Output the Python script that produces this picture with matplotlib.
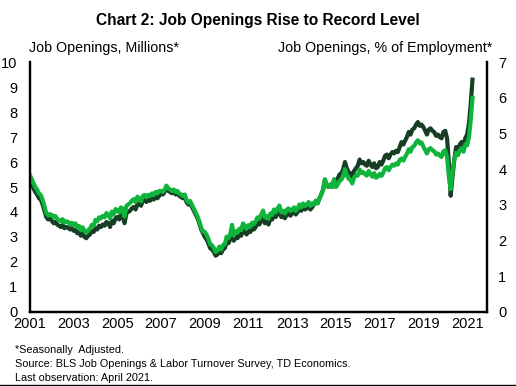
import numpy as np
import pandas as pd
import matplotlib
matplotlib.use('Agg')
import matplotlib.pyplot as plt
import matplotlib.dates as mdates

plt.rcParams['font.family'] = ['Liberation Sans', 'DejaVu Sans']

# Job openings, millions (left axis), monthly Jan 2001 - Apr 2021
openings = [
    5.25, 5.10, 4.95, 4.80, 4.70, 4.55, 4.50, 4.30, 4.05, 3.80, 3.70, 3.75,  # 2001
    3.65, 3.55, 3.60, 3.50, 3.45, 3.40, 3.48, 3.35, 3.40, 3.38, 3.30, 3.35,  # 2002
    3.25, 3.30, 3.15, 3.20, 3.05, 3.15, 3.00, 2.95, 3.05, 3.10, 3.25, 3.20,  # 2003
    3.35, 3.30, 3.45, 3.40, 3.50, 3.45, 3.60, 3.55, 3.40, 3.65, 3.55, 3.75,  # 2004
    3.80, 3.70, 3.90, 3.85, 3.55, 3.95, 4.00, 4.05, 4.15, 4.20, 4.10, 4.30,  # 2005
    4.35, 4.25, 4.45, 4.50, 4.40, 4.50, 4.45, 4.55, 4.50, 4.60, 4.55, 4.65,  # 2006
    4.75, 4.70, 4.80, 4.95, 4.85, 4.80, 4.75, 4.80, 4.70, 4.75, 4.65, 4.60,  # 2007
    4.55, 4.60, 4.40, 4.30, 4.35, 4.20, 4.05, 3.90, 3.75, 3.55, 3.30, 3.15,  # 2008
    3.00, 2.90, 2.75, 2.55, 2.50, 2.40, 2.25, 2.30, 2.45, 2.35, 2.50, 2.55,  # 2009
    2.80, 2.75, 2.90, 3.25, 2.85, 3.00, 2.95, 3.10, 3.05, 3.30, 3.20, 3.10,  # 2010
    3.25, 3.20, 3.35, 3.30, 3.40, 3.55, 3.50, 3.65, 3.80, 3.55, 3.60, 3.50,  # 2011
    3.75, 3.70, 3.90, 3.80, 3.95, 4.05, 3.80, 3.85, 3.75, 3.90, 3.95, 3.85,  # 2012
    3.95, 4.05, 3.90, 4.00, 4.15, 4.05, 4.20, 4.10, 4.15, 4.25, 4.10, 4.20,  # 2013
    4.30, 4.45, 4.35, 4.55, 4.70, 4.90, 5.30, 5.05, 5.00, 5.10, 5.00, 5.30,  # 2014
    5.25, 5.35, 5.50, 5.55, 5.70, 6.00, 5.75, 5.60, 5.55, 5.40, 5.65, 5.75,  # 2015
    5.85, 6.10, 5.95, 6.00, 5.90, 5.85, 6.05, 5.90, 5.80, 5.95, 5.75, 5.80,  # 2016
    6.00, 5.90, 6.05, 6.25, 6.30, 6.15, 6.30, 6.40, 6.35, 6.45, 6.40, 6.60,  # 2017
    6.80, 6.70, 6.85, 7.00, 7.20, 7.10, 7.30, 7.35, 7.50, 7.60, 7.45, 7.50,  # 2018
    7.40, 7.25, 7.10, 7.30, 7.35, 7.25, 7.20, 7.05, 7.10, 7.00, 6.95, 7.20,  # 2019
    7.25, 6.95, 6.00, 4.65, 5.40, 6.10, 6.60, 6.50, 6.70, 6.80, 6.65, 6.95,  # 2020
    7.10, 7.55, 8.30, 9.30,                                                  # 2021
]

# Job openings, % of employment (right axis)
rate = [
    3.83, 3.72, 3.61, 3.50, 3.43, 3.32, 3.28, 3.14, 2.96, 2.77, 2.70, 2.74,
    2.72, 2.65, 2.69, 2.61, 2.57, 2.54, 2.60, 2.50, 2.54, 2.52, 2.46, 2.50,
    2.44, 2.48, 2.37, 2.41, 2.29, 2.37, 2.26, 2.22, 2.29, 2.33, 2.44, 2.41,
    2.58, 2.54, 2.65, 2.62, 2.69, 2.65, 2.77, 2.73, 2.62, 2.81, 2.73, 2.88,
    2.86, 2.78, 2.93, 2.89, 2.67, 2.97, 3.01, 3.05, 3.12, 3.16, 3.08, 3.23,
    3.18, 3.10, 3.25, 3.28, 3.21, 3.28, 3.25, 3.32, 3.28, 3.36, 3.32, 3.39,
    3.39, 3.36, 3.43, 3.54, 3.46, 3.43, 3.39, 3.43, 3.36, 3.39, 3.32, 3.29,
    3.25, 3.29, 3.14, 3.07, 3.11, 3.00, 2.89, 2.79, 2.68, 2.54, 2.36, 2.25,
    2.24, 2.16, 2.05, 1.90, 1.87, 1.79, 1.68, 1.72, 1.83, 1.75, 1.87, 1.90,
    2.11, 2.07, 2.18, 2.44, 2.14, 2.26, 2.22, 2.33, 2.29, 2.48, 2.41, 2.33,
    2.43, 2.39, 2.50, 2.46, 2.54, 2.65, 2.61, 2.72, 2.84, 2.65, 2.69, 2.61,
    2.76, 2.72, 2.87, 2.79, 2.90, 2.98, 2.79, 2.83, 2.76, 2.87, 2.90, 2.83,
    2.86, 2.93, 2.83, 2.90, 3.01, 2.93, 3.04, 2.97, 3.01, 3.08, 2.97, 3.04,
    3.01, 3.11, 3.04, 3.18, 3.29, 3.43, 3.71, 3.53, 3.50, 3.57, 3.50, 3.71,
    3.50, 3.57, 3.67, 3.70, 3.80, 4.00, 3.83, 3.73, 3.70, 3.60, 3.77, 3.83,
    3.82, 3.99, 3.89, 3.92, 3.86, 3.82, 3.95, 3.86, 3.79, 3.89, 3.76, 3.79,
    3.87, 3.81, 3.90, 4.03, 4.06, 3.97, 4.06, 4.13, 4.10, 4.16, 4.13, 4.26,
    4.30, 4.24, 4.34, 4.43, 4.56, 4.49, 4.62, 4.65, 4.75, 4.81, 4.72, 4.75,
    4.63, 4.53, 4.44, 4.56, 4.59, 4.53, 4.50, 4.41, 4.44, 4.38, 4.34, 4.50,
    4.53, 4.34, 3.80, 3.44, 3.91, 4.27, 4.46, 4.39, 4.53, 4.59, 4.49, 4.70,
    4.67, 4.90, 5.35, 6.00,
]

dates = pd.date_range('2001-01-01', periods=len(openings), freq='MS')
year_ticks = list(range(2001, 2022, 2))

dark = '#173d25'
bright = '#0fb43a'

fig = plt.figure(figsize=(5.16, 3.86), dpi=100)
ax = fig.add_axes([0.058, 0.192, 0.886, 0.647])
ax2 = ax.twinx()

ax.plot(dates, openings, color=dark, lw=3.0, solid_joinstyle='round')
ax2.plot(dates, rate, color=bright, lw=3.0, solid_joinstyle='round')

ax.set_ylim(0, 10)
ax2.set_ylim(0, 7)
ax.set_yticks(range(0, 11))
ax2.set_yticks(range(0, 8))
ax.set_xlim(pd.Timestamp('2001-01-01'), pd.Timestamp('2021-12-01'))
ax.set_xticks([pd.Timestamp(f'{y}-01-01') for y in year_ticks])
ax.xaxis.set_major_formatter(mdates.DateFormatter('%Y'))

for a in (ax, ax2):
    a.spines['top'].set_visible(False)
    for s in ('left', 'right', 'bottom'):
        a.spines[s].set_linewidth(1.6)
        a.spines[s].set_color('black')
    a.tick_params(length=0, labelsize=10.5, colors='black')
ax.tick_params(axis='y', pad=9)
ax.tick_params(axis='x', pad=4)
ax2.tick_params(axis='y', pad=8)
ax2.set_zorder(ax.zorder + 1)
ax2.patch.set_visible(False)

fig.text(0.5, 0.947, 'Chart 2: Job Openings Rise to Record Level', ha='center', va='center',
         fontsize=11.2, fontweight='bold')
fig.text(0.056, 0.876, 'Job Openings, Millions*', ha='left', va='center', fontsize=10.3)
fig.text(0.955, 0.876, 'Job Openings, % of Employment*', ha='right', va='center', fontsize=10.3)

notes = ['*Seasonally  Adjusted.',
         'Source: BLS Job Openings & Labor Turnover Survey, TD Economics.',
         'Last observation: April 2021.']
for i, t in enumerate(notes):
    fig.text(0.029, 0.093 - i * 0.036, t, ha='left', va='center', fontsize=7.8)

fig.add_artist(plt.Line2D([0, 1], [0.002, 0.002], color='black', lw=1.0, transform=fig.transFigure))

fig.savefig('out.png', dpi=100)
